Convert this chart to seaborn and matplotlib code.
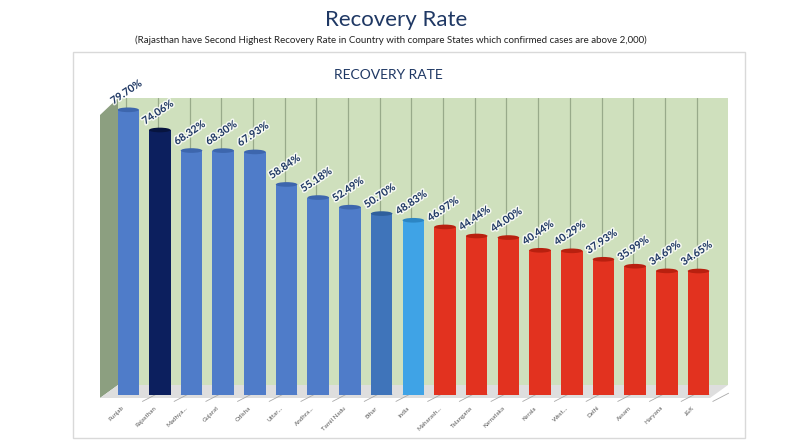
import matplotlib
matplotlib.use("Agg")
import matplotlib.pyplot as plt
import matplotlib.patheffects as pe
from matplotlib.patches import Polygon, Rectangle, Ellipse
import seaborn as sns
import pandas as pd

categories = ["Punjab", "Rajasthan", "Madhya...", "Gujarat", "Odisha", "Uttar...",
              "Andhra...", "Tamil Nadu", "Bihar", "India", "Maharash...", "Telangana",
              "Karnataka", "Kerala", "West...", "Delhi", "Assam", "Haryana", "J&K"]
values = [79.70, 74.06, 68.32, 68.30, 67.93, 58.84, 55.18, 52.49, 50.70, 48.83,
          46.97, 44.44, 44.00, 40.44, 40.29, 37.93, 35.99, 34.69, 34.65]
colors = ["#4f7cc9", "#0c1f5e", "#4f7cc9", "#4f7cc9", "#4f7cc9", "#4f7cc9",
          "#4f7cc9", "#4f7cc9", "#3f74ba", "#3fa3e6", "#e2321f", "#e2321f",
          "#e2321f", "#e2321f", "#e2321f", "#e2321f", "#e2321f", "#e2321f", "#e2321f"]
cap_colors = ["#3d66ad", "#07143f", "#3d66ad", "#3d66ad", "#3d66ad", "#3d66ad",
              "#3d66ad", "#3d66ad", "#2f5f9c", "#2c86c4", "#b8200f", "#b8200f",
              "#b8200f", "#b8200f", "#b8200f", "#b8200f", "#b8200f", "#b8200f", "#b8200f"]
title = "Recovery Rate"
subtitle = "(Rajasthan have Second Highest Recovery Rate in Country with compare States which confirmed cases are above 2,000)"
inner_title = "RECOVERY RATE"

sns.set_style("white")
plt.rcParams["font.family"] = ["Lato", "DejaVu Sans"]

W, H = 800, 445
fig = plt.figure(figsize=(W / 100, H / 100), dpi=100)

def fx(x):
    return x / W

def fy(y):
    return 1 - y / H

# inner white box
fig.add_artist(Rectangle((fx(73), fy(438)), fx(745) - fx(73), fy(52) - fy(438),
                         transform=fig.transFigure, facecolor="white",
                         edgecolor="#d9d9d9", lw=1, zorder=-3))
# back wall
fig.add_artist(Polygon([(fx(118), fy(98)), (fx(728), fy(98)), (fx(728), fy(385)), (fx(118), fy(385))],
                       closed=True, transform=fig.transFigure, facecolor="#cfe0bd",
                       edgecolor="none", zorder=-2))
# side wall
fig.add_artist(Polygon([(fx(100), fy(115)), (fx(118), fy(98)), (fx(118), fy(385)), (fx(100), fy(398))],
                       closed=True, transform=fig.transFigure, facecolor="#8c9f80",
                       edgecolor="none", zorder=-2))
# floor
fig.add_artist(Polygon([(fx(100), fy(398)), (fx(118), fy(385)), (fx(728), fy(385)), (fx(710), fy(398))],
                       closed=True, transform=fig.transFigure, facecolor="#dedede",
                       edgecolor="none", zorder=-2))

ax = fig.add_axes([fx(118), fy(395), fx(728) - fx(118), fy(98) - fy(395)])
ax.patch.set_alpha(0)

df = pd.DataFrame({"state": categories, "rate": values})
sns.barplot(data=df, x="state", y="rate", hue="state", palette=colors, legend=False,
            ax=ax, width=0.68, saturation=1, zorder=3, linewidth=0, edgecolor="none")

ax.set_xlim(-0.32, 18.93)
ax.set_ylim(0, 83)

for i in range(len(categories)):
    ax.axvline(i - 0.06, ymin=10 / 297, ymax=1, color="#98aa8a", lw=0.9, zorder=1)
    # floor diagonal line
    ax.plot([i + 0.45, i + 0.95], [-1.8, 0.5], color="#a9a9a9", lw=0.6, zorder=1, clip_on=False)

for i, (v, c) in enumerate(zip(values, cap_colors)):
    ax.add_patch(Ellipse((i, v), 0.68, 1.3, facecolor=c, edgecolor="none", zorder=4))
    ax.add_patch(Ellipse((i, 0), 0.68, 1.3, facecolor=colors[i], edgecolor="none", zorder=3))
    ax.text(i - 0.05, v + 1.0, f"{v:.2f}%", rotation=34, ha="center", va="bottom",
            fontsize=7.5, fontweight="bold", color="#1f3864", zorder=5,
            path_effects=[pe.withStroke(linewidth=2.2, foreground="white", alpha=0.8)])

ax.set_xticks([])
ax.set_yticks([])
ax.set_xlabel("")
ax.set_ylabel("")
for s in ax.spines.values():
    s.set_visible(False)

xt = ax.get_xaxis_transform()
for i, lab in enumerate(categories):
    ax.text(i - 0.2, -0.035, lab, transform=xt, rotation=45, ha="right", va="top",
            rotation_mode="anchor", fontsize=4.5, color="#595959")

fig.text(0.495, fy(20), title, ha="center", va="center", fontsize=16, color="#1f3864")
fig.text(0.489, fy(40), subtitle, ha="center", va="center", fontsize=7, color="#222222")
fig.text(fx(388), fy(75), inner_title, ha="center", va="center", fontsize=10, color="#1f3864")

fig.savefig("out.png", dpi=100)
